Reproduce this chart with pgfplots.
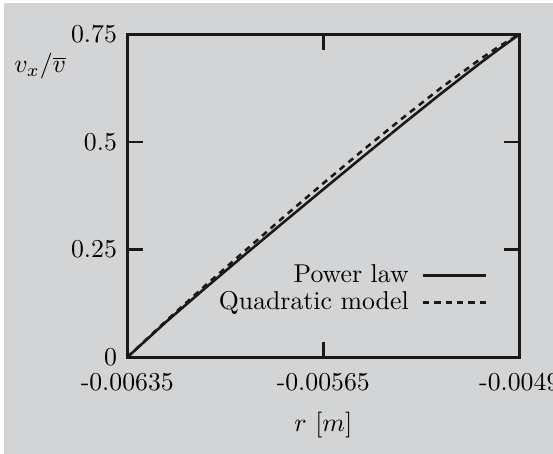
\documentclass[border=0pt]{standalone}
\usepackage{pgfplots}
\pgfplotsset{compat=1.18}
\definecolor{bggray}{RGB}{211,212,214}
\begin{document}
\begin{tikzpicture}
% background (1px = 0.388pt)
\fill[white] (-49.39pt,-37.52pt) rectangle (165.17pt,138.63pt);
\fill[bggray] (-47.84pt,-37.52pt) rectangle (165.17pt,137.47pt);
\begin{axis}[
  at={(0,0)}, anchor=south west,
  scale only axis, width=152.1pt, height=125.3pt,
  clip=false,
  xmin=-0.00635, xmax=-0.0049, ymin=0, ymax=0.75,
  scaled x ticks=false, scaled y ticks=false,
  axis line style={line width=1pt, black!90},
  xtick={-0.00635,-0.005625,-0.0049},
  xticklabels={-0.00635,-0.00565,-0.0049},
  ytick={0,0.25,0.5,0.75},
  yticklabels={0,0.25,0.5,0.75},
  tick align=inside, xtick pos=both, ytick pos=both,
  major tick length=5.9pt,
  every tick/.style={line width=1pt, black!90},
  xticklabel style={yshift=-2.5pt},
  yticklabel style={xshift=-0.5pt},
  legend plot pos=right,
  legend cell align=right,
  legend style={draw=none, fill=none, at={(rel axis cs:0.92,0.211)}, anchor=east,
    inner sep=0pt, row sep=0pt, column sep=4.3pt,
    nodes={text height=7pt, text depth=2pt, inner sep=0.75pt}},
  legend image code/.code={\draw[#1] (0pt,0pt) -- (24.5pt,0pt);},
]
\addplot[line width=1pt, black!90] coordinates {
(-0.00635,0) (-0.006205,0.0831) (-0.00606,0.1616) (-0.005915,0.2385)
(-0.00577,0.3146) (-0.005625,0.3901) (-0.00548,0.4651) (-0.005335,0.5394)
(-0.00519,0.6123) (-0.005045,0.6831) (-0.0049725,0.7171) (-0.0049,0.75)};
\addlegendentry{Power law}
\addplot[line width=1pt, black!90, dash pattern=on 2.4pt off 2pt] coordinates {
(-0.00635,0) (-0.006205,0.0854) (-0.00606,0.1674) (-0.005915,0.2471)
(-0.00577,0.3267) (-0.005625,0.4040) (-0.00548,0.4802) (-0.005335,0.5540)
(-0.00519,0.6255) (-0.005045,0.6924) (-0.0049725,0.7229) (-0.0049,0.75)};
\addlegendentry{Quadratic model}
\node at (rel axis cs:0,1) [xshift=-33.8pt, yshift=-12.4pt] {$v_x/\overline{v}$};
\node at (rel axis cs:0.5,0) [yshift=-26.4pt] {$r$ $[m]$};
\end{axis}
\pgfresetboundingbox
\useasboundingbox (-49.39pt,-37.52pt) rectangle (165.17pt,138.63pt);
\end{tikzpicture}
\end{document}
